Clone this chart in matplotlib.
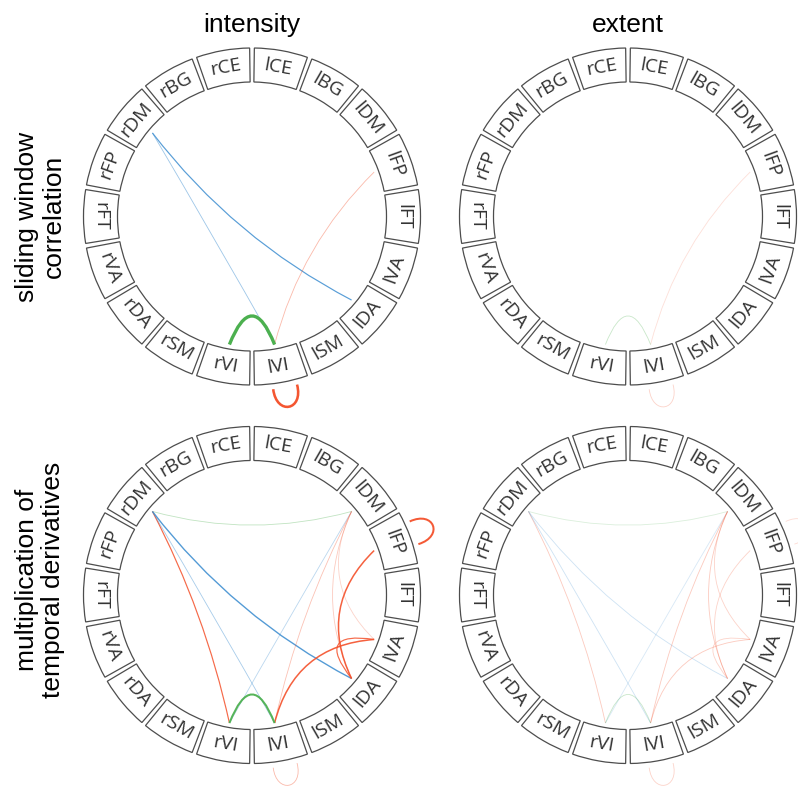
import numpy as np
import matplotlib.pyplot as plt
from matplotlib.path import Path
from matplotlib.patches import PathPatch, Wedge

# network labels, clockwise from the top
labels = ['lCE', 'lBG', 'lDM', 'lFP', 'lFT', 'lVA', 'lDA', 'lSM', 'lVI',
          'rVI', 'rSM', 'rDA', 'rVA', 'rFT', 'rFP', 'rDM', 'rBG', 'rCE']
col_titles = ['intensity', 'extent']
row_titles = ['sliding window\ncorrelation', 'multiplication of\ntemporal derivatives']

# connections: (node, node, signed strength); same node twice = self loop
swc_intensity = [('rDM', 'lDA', -0.85), ('rDM', 'lVI', -0.5), ('lFP', 'lVI', 0.4),
                 ('rVI', 'lVI', 1.0), ('lVI', 'lVI', 0.97)]
swc_extent = [('lFP', 'lVI', 0.18), ('rVI', 'lVI', 0.3), ('lVI', 'lVI', 0.25)]
mtd_intensity = [('rDM', 'lDM', 0.35), ('rDM', 'rVI', 0.85), ('rDM', 'lVI', -0.45),
                 ('rDM', 'lDA', -0.88), ('lDM', 'rVI', -0.35), ('lDM', 'lVI', 0.35),
                 ('lDM', 'lDA', 0.3), ('lDM', 'lVA', 0.25), ('lFP', 'lDA', 0.9),
                 ('lVA', 'lDA', 0.85), ('lVA', 'lVI', 0.9), ('rVI', 'lVI', 0.94),
                 ('lFP', 'lFP', 0.94), ('lVI', 'lVI', 0.4)]
mtd_extent = [('rDM', 'lDM', 0.2), ('rDM', 'rVI', 0.3), ('rDM', 'lVI', -0.25),
              ('rDM', 'lDA', -0.25), ('lDM', 'rVI', -0.2), ('lDM', 'lVI', 0.3),
              ('lDM', 'lDA', 0.3), ('lDM', 'lVA', 0.25), ('lFP', 'lDA', 0.25),
              ('lVA', 'lDA', 0.25), ('lVA', 'lVI', 0.3), ('rVI', 'lVI', 0.3),
              ('lFP', 'lFP', 0.2), ('lVI', 'lVI', 0.25)]
panels = [[swc_intensity, swc_extent], [mtd_intensity, mtd_extent]]

RED, BLUE, GREEN = '#f4502a', '#3c8dd0', '#4cb04f'
R_OUT, R_IN, R_LINE, R_LOOP = 168.5, 134.5, 130, 174
angles = 80 - 20 * np.arange(len(labels))
node_angle = dict(zip(labels, angles))

W, H = 798, 788
fig = plt.figure(figsize=(W / 100, H / 100), dpi=100)
ax = fig.add_axes([0, 0, 1, 1])
ax.set_xlim(0, W)
ax.set_ylim(0, H)
ax.axis('off')


def unit(a):
    return np.array([np.cos(np.radians(a)), np.sin(np.radians(a))])


def draw_circle(c, conns):
    for lab, a in node_angle.items():
        ax.add_patch(Wedge(c, R_OUT, a - 9.2, a + 9.2, width=R_OUT - R_IN,
                           facecolor='white', edgecolor='#4d4d4d', lw=0.9, zorder=2))
        an = (a + 180) % 360 - 180
        rot = an - 90 if an >= 0 else an + 90
        p = c + unit(a) * (R_IN + R_OUT) / 2
        ax.text(p[0], p[1], lab, rotation=rot, rotation_mode='anchor',
                ha='center', va='center', fontsize=14, family='Open Sans',
                color='#333333', zorder=3)

    for n1, n2, v in conns:
        s = abs(v)
        lw = 0.6 + 1.8 * s ** 12
        if n1 == n2:
            a = node_angle[n1] + 1
            p0 = c + unit(a - 4) * R_LOOP
            p3 = c + unit(a + 4) * R_LOOP
            verts = [p0, p0 + unit(a - 4) * 27, p3 + unit(a + 4) * 27, p3]
            codes = [Path.MOVETO, Path.CURVE4, Path.CURVE4, Path.CURVE4]
            color = RED
        else:
            a0, a1 = node_angle[n1], node_angle[n2]
            d = (a1 - a0) % 360
            if d > 180:
                d -= 360
            mid = a0 + d / 2
            cr = R_LINE * (0.22 + 0.33 * np.cos(np.radians(d / 2)))
            verts = [c + unit(a0) * R_LINE, c + unit(mid) * cr, c + unit(a1) * R_LINE]
            codes = [Path.MOVETO, Path.CURVE3, Path.CURVE3]
            if n1[1:] == n2[1:]:
                color = GREEN
            else:
                color = RED if v > 0 else BLUE
        ax.add_patch(PathPatch(Path(verts, codes), fill=False, edgecolor=color,
                               alpha=s, lw=lw, zorder=1, capstyle='butt'))


centers_x = [252, 628]
centers_y = [H - 216.5, H - 595]
for r in range(2):
    for k in range(2):
        draw_circle(np.array([centers_x[k], centers_y[r]]), panels[r][k])

title_font = dict(family=['Liberation Sans', 'DejaVu Sans'], fontsize=19, color='black')
for k, t in enumerate(col_titles):
    ax.text(centers_x[k], H - 25, t, ha='center', va='center', **title_font)
row_y = [H - 216.5, H - 580]
for r, t in enumerate(row_titles):
    ax.text(40, row_y[r], t, rotation=90, ha='center', va='center',
            multialignment='center', linespacing=1.15, **title_font)

fig.savefig('out.png', dpi=100, facecolor='white')
